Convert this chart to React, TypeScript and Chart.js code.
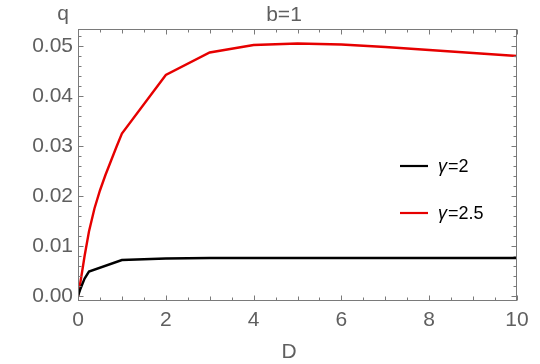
import React, { useEffect, useRef } from "react";
import { Chart, registerables } from "chart.js";

Chart.register(...registerables);

const dGamma2 = [0, 0.05, 0.1, 0.15, 0.25, 1, 2, 3, 4, 5, 6, 7, 8, 9, 10];
const qGamma2 = [0, 0.0013, 0.0024, 0.0035, 0.0049, 0.0072, 0.0075, 0.0076, 0.0076, 0.0076, 0.0076, 0.0076, 0.0076, 0.0076, 0.0076];
const dGamma25 = [0, 0.05, 0.1, 0.15, 0.25, 0.375, 0.5, 0.625, 0.75, 0.875, 1, 2, 3, 4, 5, 6, 7, 8, 9, 10];
const qGamma25 = [0, 0.0025, 0.0052, 0.008, 0.0129, 0.0175, 0.0211, 0.0242, 0.027, 0.0298, 0.0325, 0.0442, 0.0487, 0.0502, 0.0505, 0.0503, 0.0498, 0.0492, 0.0486, 0.048];
const seriesLabels = ["γ=2", "γ=2.5"];
const seriesColors = ["#000000", "#e60000"];
const xTicks = [0, 2, 4, 6, 8, 10];
const yTicks = [0, 0.01, 0.02, 0.03, 0.04, 0.05];
const titleText = "b=1";
const xLabel = "D";
const yLabel = "q";

const FONT = "'Liberation Sans', Arial, sans-serif";
const GRAY = "#5f5f5f";

const framePlugin = {
  id: "mframe",
  afterDatasetsDraw(chart: any) {
    const { ctx, chartArea: a, scales } = chart;
    const xs = scales.x;
    const ys = scales.y;
    const L = Math.round(a.left) + 0.5;
    const R = Math.round(a.right) - 0.5;
    const T = Math.round(a.top) + 0.5;
    const B = Math.round(a.bottom) - 0.5;
    ctx.save();
    ctx.strokeStyle = "#7a7a7a";
    ctx.lineWidth = 1;
    ctx.strokeRect(L, T, R - L, B - T);
    ctx.beginPath();
    for (let i = 0; i <= 20; i++) {
      const v = i * 0.5;
      const len = i % 4 === 0 ? 5 : i % 2 === 0 ? 4 : 3;
      const px = Math.round(xs.getPixelForValue(v)) + 0.5;
      ctx.moveTo(px, B);
      ctx.lineTo(px, B - len);
      ctx.moveTo(px, T);
      ctx.lineTo(px, T + len);
    }
    for (let i = 0; i <= 26; i++) {
      const v = i * 0.002;
      const len = i % 5 === 0 ? 5 : 3;
      const py = Math.round(ys.getPixelForValue(v)) + 0.5;
      ctx.moveTo(L, py);
      ctx.lineTo(L + len, py);
      ctx.moveTo(R, py);
      ctx.lineTo(R - len, py);
    }
    ctx.stroke();

    // title and axis labels
    ctx.fillStyle = GRAY;
    ctx.font = `21px ${FONT}`;
    ctx.textAlign = "center";
    ctx.textBaseline = "alphabetic";
    ctx.fillText(titleText, 284, 21);
    ctx.fillText(yLabel, 63, 20);
    ctx.fillText(xLabel, 289, 358);

    // legend
    const legendY = [166, 213];
    ctx.textAlign = "left";
    ctx.textBaseline = "middle";
    seriesLabels.forEach((lab, i) => {
      const y = legendY[i];
      ctx.strokeStyle = seriesColors[i];
      ctx.lineWidth = 2.2;
      ctx.beginPath();
      ctx.moveTo(400, y);
      ctx.lineTo(428, y);
      ctx.stroke();
      ctx.fillStyle = "#000";
      const greek = lab.slice(0, 1);
      const rest = lab.slice(1);
      ctx.font = `italic 18px ${FONT}`;
      ctx.fillText(greek, 438, y + 1);
      const w = ctx.measureText(greek).width;
      ctx.font = `18px ${FONT}`;
      ctx.fillText(rest, 438 + w + 1, y + 1);
    });
    ctx.restore();
  },
};

export default function App() {
  const ref = useRef<HTMLCanvasElement>(null);
  useEffect(() => {
    if (!ref.current) return;
    const chart = new Chart(ref.current, {
      type: "line",
      data: {
        datasets: [
          {
            label: seriesLabels[0],
            data: dGamma2.map((d, i) => ({ x: d, y: qGamma2[i] })),
            borderColor: seriesColors[0],
            borderWidth: 2.4,
            pointRadius: 0,
            tension: 0,
            fill: false,
          },
          {
            label: seriesLabels[1],
            data: dGamma25.map((d, i) => ({ x: d, y: qGamma25[i] })),
            borderColor: seriesColors[1],
            borderWidth: 2.4,
            pointRadius: 0,
            tension: 0,
            fill: false,
          },
        ],
      },
      options: {
        animation: false,
        responsive: false,
        devicePixelRatio: 1,
        layout: { padding: { left: 0, top: 29, right: 23, bottom: 0 } },
        plugins: { legend: { display: false }, tooltip: { enabled: false }, title: { display: false } },
        scales: {
          x: {
            type: "linear",
            min: 0,
            max: 10,
            grid: { display: false, drawTicks: false },
            border: { display: false },
            afterFit: (s: any) => {
              s.height = 63;
            },
            afterBuildTicks: (s: any) => {
              s.ticks = xTicks.map((v) => ({ value: v }));
            },
            ticks: {
              color: GRAY,
              font: { family: FONT, size: 21 },
              padding: 7,
              maxRotation: 0,
              autoSkip: false,
              callback: (v: any) => String(v),
            },
          },
          y: {
            type: "linear",
            min: -0.001,
            max: 0.0534,
            grid: { display: false, drawTicks: false },
            border: { display: false },
            afterFit: (s: any) => {
              s.width = 78;
            },
            afterBuildTicks: (s: any) => {
              s.ticks = yTicks.map((v) => ({ value: v }));
            },
            ticks: {
              color: GRAY,
              font: { family: FONT, size: 21 },
              padding: 5,
              autoSkip: false,
              callback: (v: any) => Number(v).toFixed(2),
            },
          },
        },
      },
      plugins: [framePlugin],
    });
    return () => chart.destroy();
  }, []);
  return (
    <div style={{ position: "fixed", left: 0, top: 0, width: 540, height: 364, background: "#fff" }}>
      <canvas ref={ref} width={540} height={364} style={{ display: "block" }} />
    </div>
  );
}
